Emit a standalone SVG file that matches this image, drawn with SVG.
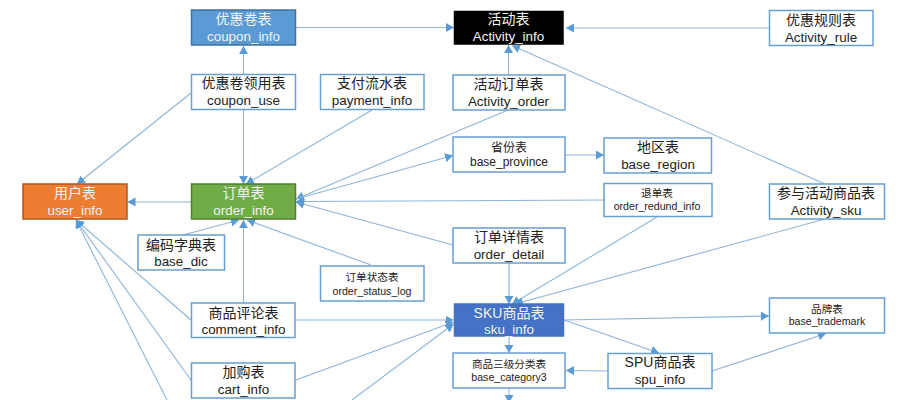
<svg xmlns="http://www.w3.org/2000/svg" width="905" height="400" viewBox="0 0 905 400">
<defs>
<marker id="arr" markerUnits="userSpaceOnUse" markerWidth="10" markerHeight="10" refX="8" refY="4.5" orient="auto"><path d="M0,0L8,4.5L0,9Z" fill="#5b9bd5"/></marker>
</defs>
<style>
.n rect{stroke:#6a9fd2;stroke-width:1.5;fill:#fff}
.n text{font-family:"Liberation Sans","Noto Sans CJK SC",sans-serif;font-size:14px;text-anchor:middle;fill:#222}
.n text:last-child{font-size:13.4px}
.s text{font-size:10.6px}
.n.s text:last-child{font-size:10.6px}
.n.p text,.n.p text:last-child{font-size:12px}
.w text{fill:#f2f2f2}
#connectors line{stroke:#8db4d9;stroke-width:1.1;marker-end:url(#arr)}
</style>
<rect width="905" height="400" fill="#fff"/>
<g id="connectors">
<line x1="296" y1="27.500" x2="454" y2="27.500"/>
<line x1="243.500" y1="74" x2="243.500" y2="46"/>
<line x1="191" y1="93" x2="77" y2="184"/>
<line x1="243.500" y1="110" x2="243.500" y2="184"/>
<line x1="372" y1="110" x2="246" y2="184"/>
<line x1="508.500" y1="75" x2="508.500" y2="45"/>
<line x1="769" y1="28" x2="566" y2="28"/>
<line x1="825" y1="184" x2="512" y2="45.500"/>
<line x1="508" y1="110" x2="296" y2="199"/>
<line x1="296" y1="199" x2="453" y2="155.500"/>
<line x1="565" y1="155" x2="604" y2="155"/>
<line x1="604" y1="200" x2="296" y2="201.500"/>
<line x1="191" y1="202" x2="127.500" y2="202"/>
<line x1="453" y1="245" x2="296" y2="202"/>
<line x1="183" y1="235" x2="239" y2="220"/>
<line x1="243.500" y1="303" x2="243.500" y2="220"/>
<line x1="371" y1="265" x2="247" y2="220"/>
<line x1="191" y1="320" x2="76" y2="220"/>
<line x1="191" y1="380" x2="76" y2="220"/>
<line x1="167" y1="400" x2="76" y2="220"/>
<line x1="296" y1="320" x2="453.500" y2="320"/>
<line x1="296" y1="380" x2="453.500" y2="322"/>
<line x1="352" y1="400" x2="453.500" y2="324"/>
<line x1="509" y1="263" x2="509" y2="304"/>
<line x1="657" y1="217" x2="512" y2="304"/>
<line x1="825" y1="219" x2="515" y2="304"/>
<line x1="564" y1="320" x2="769" y2="316"/>
<line x1="564" y1="320" x2="659" y2="353"/>
<line x1="509" y1="337" x2="509" y2="353"/>
<line x1="608" y1="371" x2="566" y2="370.500"/>
<line x1="712" y1="371" x2="826" y2="333.500"/>
<line x1="509" y1="388" x2="509" y2="403"/>
</g>
<g id="coupon_info" class="n w"><rect x="191.500" y="10" width="104" height="35" style="fill:#5b9bd5;stroke:#41719c"/><text x="243.500" y="24">优惠卷表</text><text x="243.500" y="41">coupon_info</text></g>
<g id="coupon_use" class="n"><rect x="191.500" y="74.500" width="104" height="35"/><text x="243.500" y="88">优惠卷领用表</text><text x="243.500" y="105">coupon_use</text></g>
<g id="payment_info" class="n"><rect x="320.500" y="74.500" width="103.500" height="35"/><text x="372" y="88">支付流水表</text><text x="372" y="105">payment_info</text></g>
<g id="activity_info" class="n w"><rect x="454.500" y="11.500" width="108.500" height="32.500" style="fill:#000;stroke:#000"/><text x="508.500" y="24">活动表</text><text x="508.500" y="41">Activity_info</text></g>
<g id="activity_rule" class="n"><rect x="769.500" y="10.500" width="103.500" height="35"/><text x="821" y="25">优惠规则表</text><text x="821" y="42">Activity_rule</text></g>
<g id="activity_order" class="n"><rect x="453" y="75" width="112" height="35"/><text x="508.500" y="89">活动订单表</text><text x="508.500" y="106">Activity_order</text></g>
<g id="base_province" class="n p"><rect x="453" y="137" width="112" height="35"/><text x="509" y="152">省份表</text><text x="509" y="166">base_province</text></g>
<g id="base_region" class="n"><rect x="604" y="138" width="107.500" height="35"/><text x="658" y="152">地区表</text><text x="658" y="169">base_region</text></g>
<g id="user_info" class="n w"><rect x="23" y="184" width="104" height="35" style="fill:#ed7d31;stroke:#ae5a21"/><text x="75" y="198">用户表</text><text x="75" y="215">user_info</text></g>
<g id="order_info" class="n w"><rect x="191.500" y="184" width="104" height="35" style="fill:#70ad47;stroke:#507e32"/><text x="243.500" y="198">订单表</text><text x="243.500" y="215">order_info</text></g>
<g id="order_redund_info" class="n s"><rect x="604" y="183.500" width="108" height="33"/><text x="657" y="197">退单表</text><text x="657" y="210">order_redund_info</text></g>
<g id="activity_sku" class="n"><rect x="769.500" y="184" width="115" height="35"/><text x="826" y="198">参与活动商品表</text><text x="826" y="215">Activity_sku</text></g>
<g id="base_dic" class="n"><rect x="138" y="235" width="86.500" height="35"/><text x="181" y="250">编码字典表</text><text x="181" y="266">base_dic</text></g>
<g id="order_detail" class="n"><rect x="453" y="228" width="112" height="35"/><text x="509" y="242">订单详情表</text><text x="509" y="259">order_detail</text></g>
<g id="order_status_log" class="n s"><rect x="320.500" y="266" width="103.500" height="35"/><text x="372" y="281">订单状态表</text><text x="372" y="295">order_status_log</text></g>
<g id="comment_info" class="n"><rect x="191.500" y="303" width="103.500" height="34.500"/><text x="243.500" y="318">商品评论表</text><text x="243.500" y="334">comment_info</text></g>
<g id="sku_info" class="n w"><rect x="454.500" y="304" width="109" height="32" style="fill:#4472c4;stroke:#4472c4"/><text x="509" y="318">SKU商品表</text><text x="509" y="334">sku_info</text></g>
<g id="base_trademark" class="n s"><rect x="769.500" y="298" width="115" height="35"/><text x="827" y="313">品牌表</text><text x="827" y="325">base_trademark</text></g>
<g id="cart_info" class="n"><rect x="191.500" y="363" width="103.500" height="35"/><text x="243.500" y="377">加购表</text><text x="243.500" y="394">cart_info</text></g>
<g id="base_category3" class="n s"><rect x="453" y="353" width="112" height="35"/><text x="509" y="368">商品三级分类表</text><text x="509" y="381">base_category3</text></g>
<g id="spu_info" class="n"><rect x="608" y="353.500" width="104" height="35"/><text x="660" y="367">SPU商品表</text><text x="660" y="384">spu_info</text></g>
</svg>
